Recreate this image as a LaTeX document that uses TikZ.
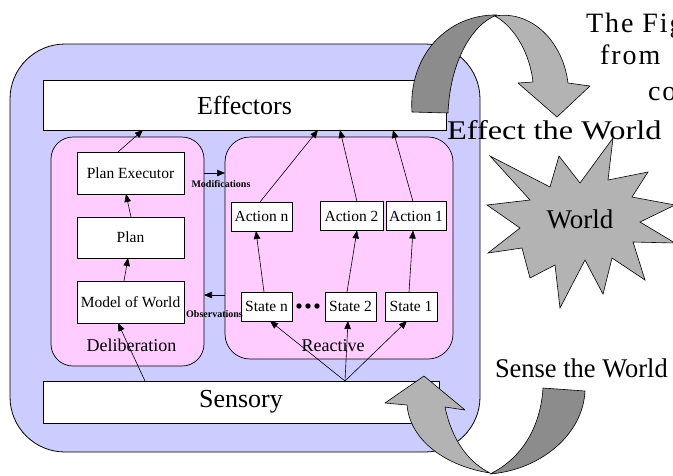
\documentclass[tikz,border=0pt]{standalone}
\usepackage{fontspec}
\setmainfont{Liberation Serif}
\newfontfamily\spacedfont[LetterSpace=7]{Liberation Serif}
\usepackage{graphicx}
\usetikzlibrary{arrows.meta}
\definecolor{robotblue}{RGB}{204,204,255}
\definecolor{layerpink}{RGB}{255,204,255}
\definecolor{lightgrey}{RGB}{179,179,179}
\definecolor{darkgrey}{RGB}{140,140,140}
\begin{document}
\begin{tikzpicture}[x=1pt,y=-1pt,
  every node/.style={inner sep=0pt, outer sep=0pt},
  bar/.style={draw, fill=white, line width=0.8pt, font=\fontsize{26}{30}\selectfont},
  box/.style={draw, fill=white, line width=0.7pt, font=\fontsize{15.5}{18}\selectfont},
  layer/.style={draw, fill=layerpink, rounded corners=22pt, line width=0.7pt},
  layerlabel/.style={font=\fontsize{18}{20}\selectfont, anchor=base},
  tinylabel/.style={font=\bfseries\fontsize{10}{12}\selectfont, anchor=base},
  arr/.style={-{Triangle[length=8pt,width=6.5pt]}, line width=0.6pt},
  ribbon/.style={draw, line width=0.6pt, line join=round},
  bigtext/.style={font=\fontsize{27}{30}\selectfont},
  sidetext/.style={font=\spacedfont\fontsize{28}{30}\selectfont, anchor=base west},
]
\useasboundingbox (0,0) rectangle (673,475);
\clip (0,0) rectangle (673,475);

% robot frame
\node[draw, fill=robotblue, rounded corners=55pt, minimum width=470pt, minimum height=408pt, line width=0.8pt] (robot) at (245,248) {};
\node[bar, minimum width=403pt, minimum height=50pt] (eff) at (244.5,105) {Effectors};
\node[bar, minimum width=396pt, minimum height=42pt] (sens) at (241,402) {Sensory};

% layers
\node[layer, minimum width=153pt, minimum height=229pt] (delib) at (127.5,251.5) {};
\node[layer, rounded corners=25pt, minimum width=228pt, minimum height=222pt] (react) at (339,248) {};
\node[layerlabel] (dlabel) at (131.5,351) {Deliberation};
\node[layerlabel] (rlabel) at (333,351) {Reactive};

% deliberation boxes
\node[box, minimum width=107pt, minimum height=42pt] (pe) at (130.5,173) {Plan Executor};
\node[box, minimum width=107pt, minimum height=41pt] (plan) at (130.5,237.5) {Plan};
\node[box, minimum width=107pt, minimum height=42pt] (mow) at (130.5,302) {Model of World};

% reactive boxes
\node[box, minimum width=61pt, minimum height=29pt] (an) at (261.5,216.5) {Action n};
\node[box, minimum width=63pt, minimum height=29pt] (a2) at (351.5,216) {Action 2};
\node[box, minimum width=60pt, minimum height=29pt] (a1) at (416,216) {Action 1};
\node[box, minimum width=51pt, minimum height=29pt] (sn) at (266.5,306.5) {State n};
\node[box, minimum width=51pt, minimum height=29pt] (s2) at (350.5,306.5) {State 2};
\node[box, minimum width=52pt, minimum height=29pt] (s1) at (411,306.5) {State 1};

\fill (299,306) circle[radius=2.7pt];
\fill (308,306) circle[radius=2.7pt];
\fill (317,306) circle[radius=2.7pt];

% deliberation arrows
\draw[arr] ([xshift=-12.5pt]pe.north) -- ([xshift=-101.5pt]eff.south);
\draw[arr] ([xshift=0.5pt]plan.north) -- ([xshift=-4.5pt]pe.south);
\draw[arr] ([xshift=-6.5pt]mow.north) -- ([xshift=-2.5pt]plan.south);
\draw[arr] ([xshift=-96pt]sens.north) -- ([xshift=-12.5pt]mow.south);

% reactive arrows
\draw[arr] ([xshift=-1.5pt]an.north) -- ([xshift=73.5pt]eff.south);
\draw[arr] ([xshift=5.5pt]a2.north) -- ([xshift=95.5pt]eff.south);
\draw[arr] ([xshift=-3pt]a1.north) -- ([xshift=148.5pt]eff.south);
\draw[arr] ([xshift=-2.5pt]sn.north) -- ([xshift=-5.5pt]an.south);
\draw[arr] ([xshift=-3.5pt]s2.north) -- ([xshift=5.5pt]a2.south);
\draw[arr] ([xshift=-2pt]s1.north) -- ([xshift=-3pt]a1.south);
\coordinate (fan) at ([xshift=104pt]sens.north);
\draw[arr] (fan) -- ([xshift=3.5pt]sn.south);
\draw[arr] (fan) -- ([xshift=-2.5pt]s2.south);
\draw[arr] (fan) -- ([xshift=-4pt]s1.south);

% between layers
\coordinate (obsy) at (0,295);
\draw[arr] (delib.east |- pe.center) -- (react.west |- pe.center);
\draw[arr] (react.west |- obsy) -- (delib.east |- obsy);
\node[tinylabel] (modl) at (221,187) {Modifications};
\node[tinylabel] (obsl) at (214.5,317) {Observations};

% big curved arrows
\path[ribbon, fill=darkgrey] (412,112) .. controls (408,55) and (448,14) .. (497,15)
  .. controls (472,24) and (450,62) .. (448,113) -- cycle;
\path[ribbon, fill=lightgrey] (495,16) .. controls (532,10) and (563,42) .. (568,83)
  -- (590,86) -- (557,117) -- (518,83) -- (533,82)
  .. controls (530,55) and (516,28) .. (495,16) -- cycle;

\path[ribbon, fill=lightgrey] (407,405) -- (385,403) -- (424,376) -- (465,410) -- (445,407)
  .. controls (452,440) and (468,462) .. (490,473)
  .. controls (445,466) and (410,440) .. (407,405) -- cycle;
\path[ribbon, fill=darkgrey] (543,388) -- (585,391)
  .. controls (583,435) and (540,470) .. (490,474)
  .. controls (515,462) and (540,435) .. (543,388) -- cycle;

% world star
\path[draw, fill=lightgrey, line width=0.6pt, line join=miter]
  (613,138) -- (608,180) -- (648,172) -- (632,197) -- (675,205) -- (640,222)
  -- (675,243) -- (633,242) -- (645,280) -- (612,258) -- (603,294) -- (585,260)
  -- (560,308) -- (555,265) -- (530,278) -- (522,248) -- (488,253) -- (520,228)
  -- (487,205) -- (530,200) -- (490,156) -- (550,187) -- (559,156) -- (580,183) -- cycle;
\node[bigtext, anchor=base] (world) at (580,228) {World};

\node[bigtext, anchor=base west] (effw) at (447,139) {\scalebox{1.2}[1]{Effect the World}};
\node[bigtext, anchor=base west] (sensew) at (495,377) {\scalebox{0.98}[1]{Sense the World}};

% clipped side text
\node[sidetext] (t1) at (586,32) {The Fig};
\node[sidetext] (t2) at (600,64) {from};
\node[sidetext] (t3) at (648,100) {co};
\end{tikzpicture}
\end{document}
